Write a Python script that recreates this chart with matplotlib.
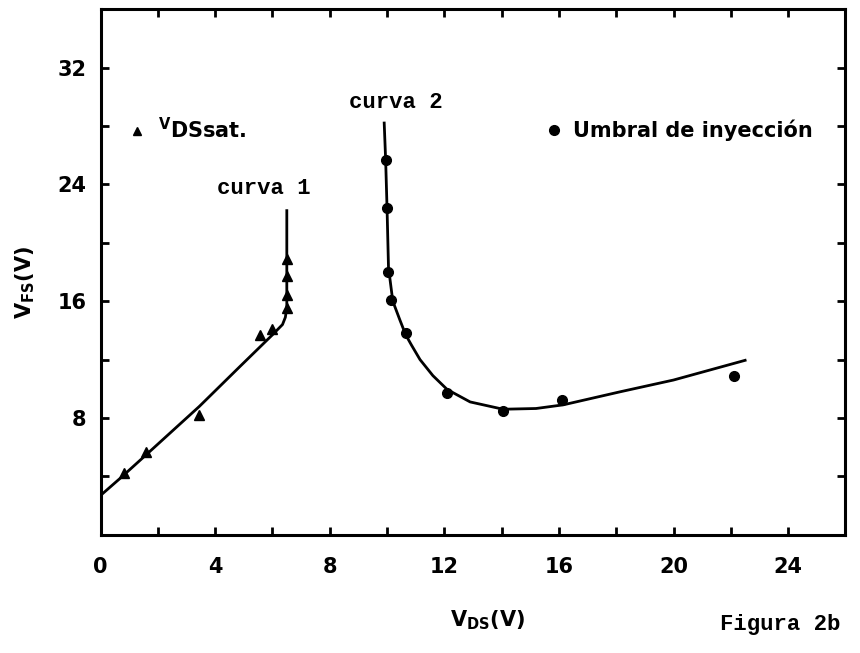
import matplotlib
matplotlib.use('Agg')
import matplotlib.pyplot as plt
from matplotlib.lines import Line2D

plt.rcParams.update({'font.family': 'DejaVu Sans', 'font.weight': 'bold', 'font.size': 15})
plt.rcParams['mathtext.fontset'] = 'custom'
plt.rcParams['mathtext.rm'] = 'DejaVu Sans:bold'
plt.rcParams['mathtext.it'] = 'DejaVu Sans:bold'
plt.rcParams['mathtext.default'] = 'rm'

# V_DSsat. points (triangles) and the fitted line, curva 1
sat_x = [0.8, 1.6, 3.45, 5.55, 6.0, 6.5, 6.5, 6.5, 6.5]
sat_y = [4.2, 5.7, 8.2, 13.7, 14.1, 15.5, 16.4, 17.7, 18.9]
curve1_x = [0.0, 0.35, 0.7, 1.6, 3.45, 4.85, 6.0, 6.35, 6.45, 6.5, 6.5]
curve1_y = [2.7, 3.3, 3.9, 5.5, 8.8, 11.5, 13.7, 14.4, 14.9, 15.6, 22.2]

# injection threshold points (dots) and curva 2
inj_x = [9.95, 10.0, 10.05, 10.15, 10.65, 12.1, 14.05, 16.1, 22.1]
inj_y = [25.7, 22.4, 18.0, 16.1, 13.8, 9.7, 8.5, 9.2, 10.9]
curve2_x = [9.9, 9.95, 10.0, 10.05, 10.2, 10.45, 10.65, 10.85, 11.15, 11.6, 12.1, 12.9,
            14.05, 15.2, 16.15, 18.15, 20.0, 22.5]
curve2_y = [28.2, 25.7, 22.3, 18.3, 16.0, 14.7, 13.7, 13.0, 12.0, 10.9, 9.95, 9.1,
            8.6, 8.65, 8.9, 9.8, 10.6, 11.95]

x_major = [0, 4, 8, 12, 16, 20, 24]
x_minor = [2, 6, 10, 14, 18, 22]
y_major = [8, 16, 24, 32]
y_minor = [4, 12, 20, 28]

fig = plt.figure(figsize=(8.6, 6.53), dpi=100)
ax = fig.add_axes([0.117, 0.181, 0.866, 0.805])

ax.plot(curve1_x, curve1_y, 'k-', lw=2)
ax.plot(sat_x, sat_y, 'k^', ms=7)
ax.plot(curve2_x, curve2_y, 'k-', lw=2)
ax.plot(inj_x, inj_y, 'ko', ms=7)

ax.set_xlim(0, 26)
ax.set_ylim(0, 36)
ax.set_xticks(x_major)
ax.set_xticks(x_minor, minor=True)
ax.set_yticks(y_major)
ax.set_yticks(y_minor, minor=True)
ax.tick_params(which='both', direction='in', length=6, width=2,
               top=True, right=True)
ax.tick_params(axis='x', pad=16)
ax.tick_params(axis='y', pad=10)
for s in ax.spines.values():
    s.set_linewidth(2.2)

ax.set_xlabel(r'$V_{DS}(V)$', fontsize=15)
ax.xaxis.set_label_coords(0.52, -0.14)
ax.set_ylabel(r'$V_{FS}(V)$', fontsize=15)
ax.yaxis.set_label_coords(-0.085, 0.48)

mono = 'Liberation Mono'
ax.text(5.7, 23.7, 'curva 1', family=mono, fontsize=16, ha='center', va='center')
ax.text(10.3, 29.6, 'curva 2', family=mono, fontsize=16, ha='center', va='center')

h1 = Line2D([], [], color='k', marker='^', ls='none', ms=6)
leg1 = ax.legend([h1], [r'$^{V}DSsat.$'], loc='upper left', bbox_to_anchor=(0.01, 0.83),
                 frameon=False, handlelength=1, handletextpad=0.5, fontsize=15)
ax.add_artist(leg1)
h2 = Line2D([], [], color='k', marker='o', ls='none', ms=7)
ax.legend([h2], ['Umbral de inyección'], loc='upper left', bbox_to_anchor=(0.57, 0.825),
          frameon=False, handlelength=1, handletextpad=0.4, fontsize=15)

fig.text(0.907, 0.043, 'Figura 2b', family=mono, fontsize=16, ha='center', va='center')

fig.savefig('out.png', dpi=100)
